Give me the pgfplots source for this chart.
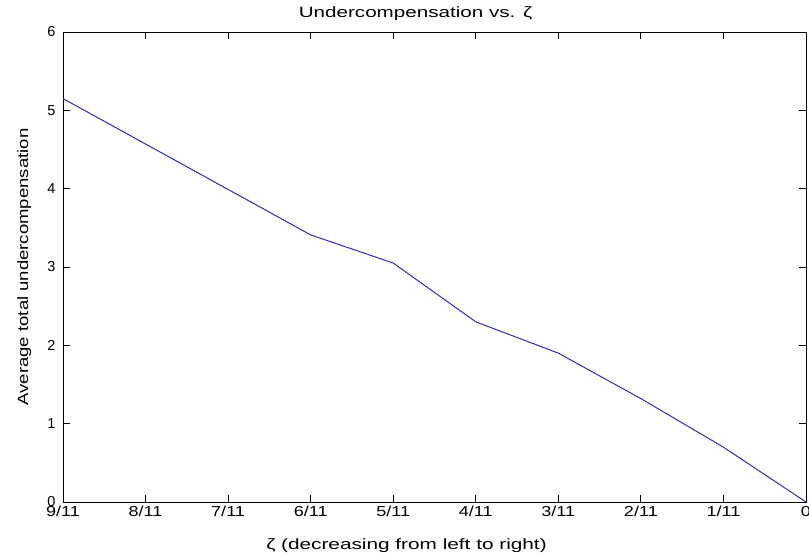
\documentclass[border=0pt]{standalone}
\usepackage{pgfplots}
\pgfplotsset{compat=1.18}
\usepackage{fontspec}
\setmainfont{Liberation Sans}
\definecolor{lineblue}{RGB}{45,45,185}
\newcommand\sx[1]{\scalebox{1.25}[1]{#1}}
\begin{document}
\begin{tikzpicture}[x=1bp,y=1bp]
\path[use as bounding box] (-63bp,-55bp) rectangle (746bp,502bp);
\begin{axis}[
  at={(0,0)}, anchor=south west,
  scale only axis,
  width=743bp, height=470bp,
  xmin=0, xmax=9, ymin=0, ymax=6,
  xtick={0,1,2,3,4,5,6,7,8,9},
  xticklabels={\sx{9/11},\sx{8/11},\sx{7/11},\sx{6/11},\sx{5/11},\sx{4/11},\sx{3/11},\sx{2/11},\sx{1/11},\sx{0}},
  ytick={0,1,2,3,4,5,6},
  tick align=inside,
  major tick length=7bp,
  axis line style={black, line width=0.9bp},
  every tick/.style={black, line width=0.9bp},
  tick label style={font=\fontsize{14.5}{16}\selectfont},
  /pgf/number format/assume math mode=true,
  xticklabel style={yshift=-1bp},
  yticklabel style={xshift=-4bp},
  title={\scalebox{1.38}[1]{\fontsize{15}{17}\selectfont Undercompensation vs. ζ}},
  title style={at={(axis description cs:0.4744,1.019)}, anchor=base},
  xlabel={\scalebox{1.39}[1]{\fontsize{15}{17}\selectfont ζ (decreasing from left to right)}},
  xlabel style={at={(axis description cs:0.4623,-0.1)}, anchor=base},
  ylabel={\scalebox{1.24}[1]{\fontsize{15}{17}\selectfont Average total undercompensation}},
  ylabel style={at={(axis description cs:-0.0471,0.5)}, anchor=base, rotate=0},
]
\addplot[color=lineblue, line width=1bp, mark=none] coordinates {
(0,5.15) (1,4.57) (2,3.99) (3,3.41) (4,3.05) (5,2.30) (6,1.90) (7,1.32) (8,0.70) (9,0)
};
\end{axis}
\end{tikzpicture}
\end{document}
